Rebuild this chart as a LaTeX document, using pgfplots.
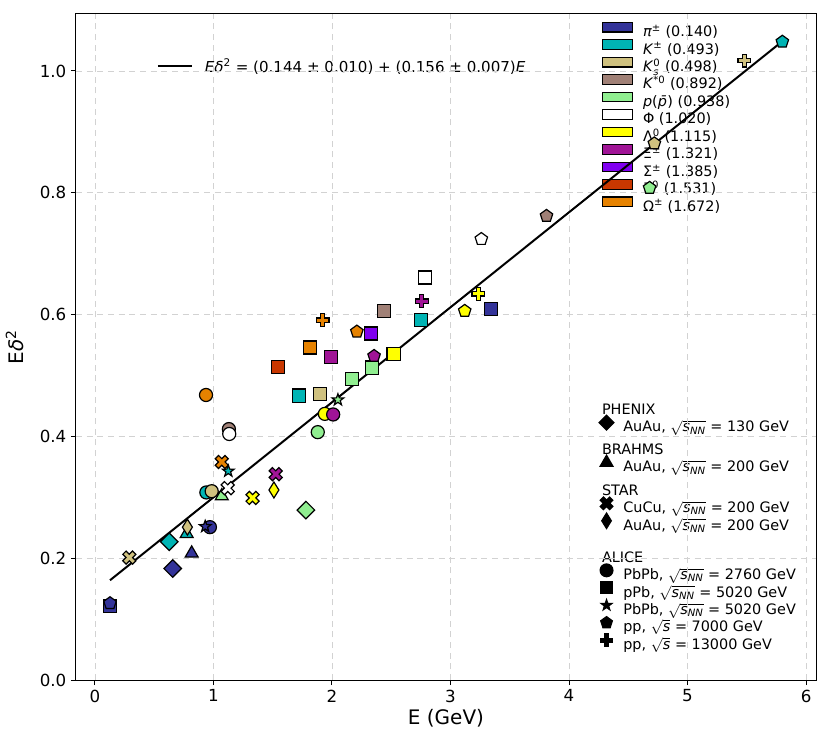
\documentclass[border=0pt]{standalone}
\usepackage{fontspec}
\setmainfont{DejaVu Sans}
\usepackage{amsmath}
\usepackage{pgfplots}
\pgfplotsset{compat=1.18}

\definecolor{cpi}{RGB}{51,51,153}
\definecolor{cK}{RGB}{0,180,180}
\definecolor{cKs}{RGB}{207,193,127}
\definecolor{cKst}{RGB}{160,128,118}
\definecolor{cp}{RGB}{144,238,144}
\definecolor{clam}{RGB}{255,255,0}
\definecolor{cxi}{RGB}{160,20,150}
\definecolor{csig}{RGB}{128,0,240}
\definecolor{cxiz}{RGB}{200,55,0}
\definecolor{com}{RGB}{230,130,0}

% filled marks with black edge
\pgfdeclareplotmark{mdiamond}{%
  \pgfpathmoveto{\pgfqpoint{0pt}{\pgfplotmarksize}}%
  \pgfpathlineto{\pgfqpoint{\pgfplotmarksize}{0pt}}%
  \pgfpathlineto{\pgfqpoint{0pt}{-\pgfplotmarksize}}%
  \pgfpathlineto{\pgfqpoint{-\pgfplotmarksize}{0pt}}%
  \pgfpathclose\pgfusepathqfillstroke}
\pgfdeclareplotmark{tdiamond}{%
  \pgfpathmoveto{\pgfqpoint{0pt}{\pgfplotmarksize}}%
  \pgfpathlineto{\pgfqpoint{.62\pgfplotmarksize}{0pt}}%
  \pgfpathlineto{\pgfqpoint{0pt}{-\pgfplotmarksize}}%
  \pgfpathlineto{\pgfqpoint{-.62\pgfplotmarksize}{0pt}}%
  \pgfpathclose\pgfusepathqfillstroke}
\pgfdeclareplotmark{fplus}{%
  \pgfpathmoveto{\pgfqpoint{-.34\pgfplotmarksize}{\pgfplotmarksize}}%
  \pgfpathlineto{\pgfqpoint{.34\pgfplotmarksize}{\pgfplotmarksize}}%
  \pgfpathlineto{\pgfqpoint{.34\pgfplotmarksize}{.34\pgfplotmarksize}}%
  \pgfpathlineto{\pgfqpoint{\pgfplotmarksize}{.34\pgfplotmarksize}}%
  \pgfpathlineto{\pgfqpoint{\pgfplotmarksize}{-.34\pgfplotmarksize}}%
  \pgfpathlineto{\pgfqpoint{.34\pgfplotmarksize}{-.34\pgfplotmarksize}}%
  \pgfpathlineto{\pgfqpoint{.34\pgfplotmarksize}{-\pgfplotmarksize}}%
  \pgfpathlineto{\pgfqpoint{-.34\pgfplotmarksize}{-\pgfplotmarksize}}%
  \pgfpathlineto{\pgfqpoint{-.34\pgfplotmarksize}{-.34\pgfplotmarksize}}%
  \pgfpathlineto{\pgfqpoint{-\pgfplotmarksize}{-.34\pgfplotmarksize}}%
  \pgfpathlineto{\pgfqpoint{-\pgfplotmarksize}{.34\pgfplotmarksize}}%
  \pgfpathlineto{\pgfqpoint{-.34\pgfplotmarksize}{.34\pgfplotmarksize}}%
  \pgfpathclose\pgfusepathqfillstroke}
\pgfdeclareplotmark{fx}{\pgftransformrotate{45}\pgfuseplotmark{fplus}}
\pgfdeclareplotmark{fstar}{%
  \pgfpathmoveto{\pgfpointpolar{90}{\pgfplotmarksize}}%
  \pgfpathlineto{\pgfpointpolar{126}{.4\pgfplotmarksize}}%
  \pgfpathlineto{\pgfpointpolar{162}{\pgfplotmarksize}}%
  \pgfpathlineto{\pgfpointpolar{198}{.4\pgfplotmarksize}}%
  \pgfpathlineto{\pgfpointpolar{234}{\pgfplotmarksize}}%
  \pgfpathlineto{\pgfpointpolar{270}{.4\pgfplotmarksize}}%
  \pgfpathlineto{\pgfpointpolar{306}{\pgfplotmarksize}}%
  \pgfpathlineto{\pgfpointpolar{342}{.4\pgfplotmarksize}}%
  \pgfpathlineto{\pgfpointpolar{18}{\pgfplotmarksize}}%
  \pgfpathlineto{\pgfpointpolar{54}{.4\pgfplotmarksize}}%
  \pgfpathclose\pgfusepathqfillstroke}

\pgfplotsset{
  base/.style={width=555pt, height=499.5pt, scale only axis,
    xmin=-0.16, xmax=6.084, ymin=0, ymax=1.0936},
  legfont/.style={font=\fontsize{10.8}{12.5}\selectfont},
  hidelegend/.style={base, hide axis, legend cell align=left,
    legend style={anchor=north west, draw=none, fill=none, inner sep=0pt,
      outer sep=0pt, row sep=-0.45pt, legfont,
      nodes={inner sep=0pt, text height=10pt, text depth=3.1pt}}},
  pclasses/.style={scatter, only marks, scatter src=explicit symbolic,
    mark options={line width=0.9pt},
    scatter/classes={
      pi={fill=cpi, draw=black}, K={fill=cK, draw=black},
      Ks={fill=cKs, draw=black}, Kst={fill=cKst, draw=black},
      p={fill=cp, draw=black}, phi={fill=white, draw=black},
      lam={fill=clam, draw=black}, xi={fill=cxi, draw=black},
      sig={fill=csig, draw=black}, xiz={fill=cxiz, draw=black},
      om={fill=com, draw=black}}},
  expimg/.style={legend image code/.code={%
      \pgfpathrectangle{\pgfqpoint{0pt}{0pt}}{\pgfqpoint{12pt}{7pt}}%
      \pgfusepath{use as bounding box}%
      \draw[##1, fill=black, draw=black, line width=0.9pt] plot coordinates {(4.9pt,3.5pt)};}},
}

\newcommand{\sq}[1]{$\sqrt{\textit{#1}}$}

\begin{document}
\begin{tikzpicture}

% particle legend
\begin{axis}[hidelegend,
  legend style={at={(axis description cs:0.7118,0.987)}, column sep=7.7pt},
  legend image code/.code={%
    \pgfpathrectangle{\pgfqpoint{0pt}{0pt}}{\pgfqpoint{22.5pt}{7pt}}%
    \pgfusepath{use as bounding box}%
    \draw[#1, line width=0.9pt] (0pt,0pt) rectangle (22.5pt,7.2pt);}]
\addlegendimage{fill=cpi, draw=black}\addlegendentry{\textit{π}$^{\text{±}}$ (0.140)}
\addlegendimage{fill=cK, draw=black}\addlegendentry{\textit{K}$^{\text{±}}$ (0.493)}
\addlegendimage{fill=cKs, draw=black}\addlegendentry{\textit{K}$^{\text{0}}_{\textit{s}}$ (0.498)}
\addlegendimage{fill=cKst, draw=black}\addlegendentry{\textit{K}$^{\text{*0}}$ (0.892)}
\addlegendimage{fill=cp, draw=black}\addlegendentry{\textit{p}(\textit{p̄}) (0.938)}
\addlegendimage{fill=white, draw=black}\addlegendentry{Φ (1.020)}
\addlegendimage{fill=clam, draw=black}\addlegendentry{Λ$^{\text{0}}$ (1.115)}
\addlegendimage{fill=cxi, draw=black}\addlegendentry{Ξ$^{\text{±}}$ (1.321)}
\addlegendimage{fill=csig, draw=black}\addlegendentry{Σ$^{\text{±}}$ (1.385)}
\addlegendimage{fill=cxiz, draw=black}\addlegendentry{Ξ$^{\text{0}}$ (1.531)}
\addlegendimage{fill=com, draw=black}\addlegendentry{Ω$^{\text{±}}$ (1.672)}
\end{axis}

% fit legend
\begin{axis}[hidelegend,
  legend style={at={(axis description cs:0.1108,0.9342)}, column sep=9.7pt,
    font=\fontsize{11.3}{13}\selectfont},
  legend image code/.code={%
    \pgfpathrectangle{\pgfqpoint{0pt}{0pt}}{\pgfqpoint{25.5pt}{7.2pt}}%
    \pgfusepath{use as bounding box}%
    \draw[#1] (0pt,1pt) -- (25.5pt,1pt);}]
\addlegendimage{black, line width=1.5pt}
\addlegendentry{\textit{E}\textit{δ}$^{\text{2}}$ = (0.144 ± 0.010) + (0.156 ± 0.007)\textit{E}}
\end{axis}

% experiment legends
\begin{axis}[hidelegend,
  legend style={at={(axis description cs:0.7081,0.4188)}, column sep=5.5pt}]
\addlegendimage{empty legend}\addlegendentry{\hspace*{-16pt}PHENIX}
\addlegendimage{expimg, mark=mdiamond, mark size=5.6pt}\addlegendentry{AuAu, \sq{s$_{\textit{NN}}$} = 130 GeV}
\end{axis}
\begin{axis}[hidelegend,
  legend style={at={(axis description cs:0.7081,0.3587)}, column sep=5.5pt}]
\addlegendimage{empty legend}\addlegendentry{\hspace*{-16pt}BRAHMS}
\addlegendimage{expimg, mark=triangle*, mark size=5.6pt}\addlegendentry{AuAu, \sq{s$_{\textit{NN}}$} = 200 GeV}
\end{axis}
\begin{axis}[hidelegend,
  legend style={at={(axis description cs:0.7081,0.2976)}, column sep=5.5pt}]
\addlegendimage{empty legend}\addlegendentry{\hspace*{-16pt}STAR}
\addlegendimage{expimg, mark=fx, mark size=5.0pt}\addlegendentry{CuCu, \sq{s$_{\textit{NN}}$} = 200 GeV}
\addlegendimage{expimg, mark=tdiamond, mark size=5.8pt}\addlegendentry{AuAu, \sq{s$_{\textit{NN}}$} = 200 GeV}
\end{axis}
\begin{axis}[hidelegend,
  legend style={at={(axis description cs:0.7081,0.1970)}, column sep=5.5pt}]
\addlegendimage{empty legend}\addlegendentry{\hspace*{-16pt}ALICE}
\addlegendimage{expimg, mark=*, mark size=4.8pt}\addlegendentry{PbPb, \sq{s$_{\textit{NN}}$} = 2760 GeV}
\addlegendimage{expimg, mark=square*, mark size=4.5pt}\addlegendentry{pPb, \sq{s$_{\textit{NN}}$} = 5020 GeV}
\addlegendimage{expimg, mark=fstar, mark size=4.2pt}\addlegendentry{PbPb, \sq{s$_{\textit{NN}}$} = 5020 GeV}
\addlegendimage{expimg, mark=pentagon*, mark size=4.6pt}\addlegendentry{pp, \sq{s} = 7000 GeV}
\addlegendimage{expimg, mark=fplus, mark size=4.6pt}\addlegendentry{pp, \sq{s} = 13000 GeV}
\end{axis}

% main axis
\begin{axis}[base, name=main,
  axis line style={line width=0.75pt},
  tick align=outside, tick pos=left,
  major tick length=3.75pt,
  tick style={black, line width=0.75pt},
  xtick={0,1,2,3,4,5,6},
  ytick={0,0.2,0.4,0.6,0.8,1.0},
  yticklabel style={/pgf/number format/.cd, fixed, fixed zerofill, precision=1},
  /pgf/number format/assume math mode=true,
  tick label style={font=\fontsize{12.5}{15}\selectfont},
  label style={font=\fontsize{15}{18}\selectfont},
  grid=major,
  grid style={gray!35, line width=0.6pt, dash pattern=on 4.5pt off 3.5pt},
  xlabel={E (GeV)},
  ylabel={E\textit{δ}$^{\text{2}}$},
  xlabel style={at={([yshift=-28.5pt]axis description cs:0.5,0)}, anchor=center},
  ylabel style={at={([xshift=-46pt]axis description cs:0,0.5)}, anchor=center},
]
% fit
\addplot[black, line width=1.5pt] coordinates {(0.127,0.1638) (5.80,1.0488)};

% ALICE pPb 5020 (squares)
\addplot[pclasses, mark=square*, mark size=4.9pt] table[meta=c] {
x y c
0.127 0.121 pi
3.34 0.609 pi
1.72 0.467 K
2.754 0.591 K
1.90 0.470 Ks
2.44 0.606 Kst
2.17 0.494 p
2.34 0.513 p
2.785 0.661 phi
2.52 0.535 lam
1.99 0.530 xi
2.33 0.569 sig
1.547 0.514 xiz
1.815 0.546 om
};
% ALICE PbPb 2760 (circles)
\addplot[pclasses, mark=*, mark size=4.9pt] table[meta=c] {
x y c
0.97 0.251 pi
0.94 0.308 K
0.985 0.310 Ks
1.13 0.412 Kst
1.88 0.407 p
1.133 0.404 phi
1.94 0.437 lam
2.01 0.436 xi
0.937 0.468 om
};
% BRAHMS AuAu 200 (triangles)
\addplot[pclasses, mark=triangle*, mark size=5.6pt] table[meta=c] {
x y c
0.816 0.208 pi
0.774 0.240 K
1.07 0.302 p
};
% PHENIX AuAu 130 (diamonds)
\addplot[pclasses, mark=mdiamond, mark size=6.6pt] table[meta=c] {
x y c
0.656 0.183 pi
0.627 0.227 K
1.78 0.279 p
};
% STAR AuAu 200 (thin diamonds)
\addplot[pclasses, mark=tdiamond, mark size=6.0pt] table[meta=c] {
x y c
0.78 0.251 Ks
1.51 0.312 lam
};
% STAR CuCu 200 (crosses)
\addplot[pclasses, mark=fx, mark size=5.2pt] table[meta=c] {
x y c
0.29 0.201 Ks
1.07 0.358 om
1.12 0.315 phi
1.33 0.299 lam
1.525 0.338 xi
};
% ALICE PbPb 5020 (stars)
\addplot[pclasses, mark=fstar, mark size=4.6pt] table[meta=c] {
x y c
0.93 0.252 pi
1.125 0.343 K
2.05 0.460 p
};
% ALICE pp 7000 (pentagons)
\addplot[pclasses, mark=pentagon*, mark size=4.9pt] table[meta=c] {
x y c
0.127 0.126 pi
5.80 1.048 K
4.72 0.881 Ks
3.81 0.762 Kst
4.68 0.808 p
3.26 0.724 phi
3.12 0.606 lam
2.355 0.532 xi
2.21 0.572 om
};
% ALICE pp 13000 (plus)
\addplot[pclasses, mark=fplus, mark size=4.8pt] table[meta=c] {
x y c
5.48 1.017 Ks
3.235 0.634 lam
2.757 0.622 xi
1.92 0.591 om
};
\end{axis}

\pgfresetboundingbox
\path[use as bounding box] ([xshift=-57pt,yshift=-47.25pt]main.south west) rectangle ([xshift=11.25pt,yshift=10.5pt]main.north east);
\end{tikzpicture}
\end{document}
